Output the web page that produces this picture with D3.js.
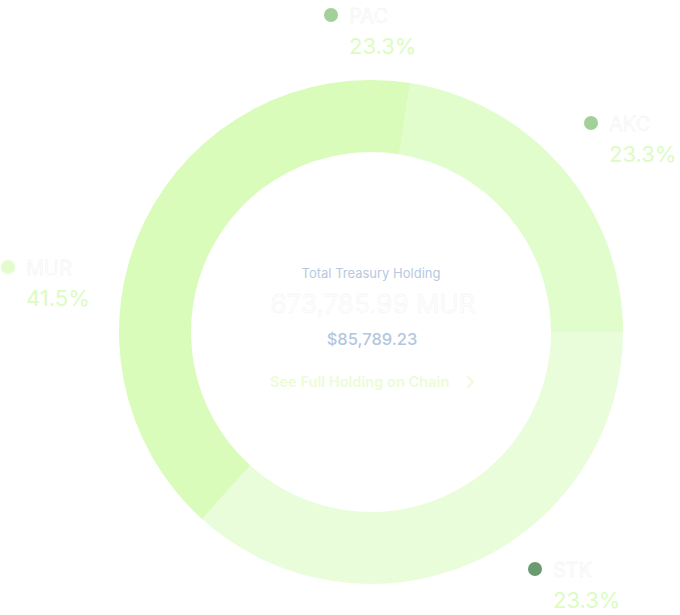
<!DOCTYPE html>
<html>
<head>
<meta charset="utf-8">
<script src="https://cdn.jsdelivr.net/npm/d3@7"></script>
<style>
  body { margin: 0; background: #ffffff; }
  svg { display: block; font-family: Inter, "Noto Sans", sans-serif; }
</style>
</head>
<body>
<div id="chart"></div>
<script>
// Ring segments, clockwise from ~9deg
const segments = ["AKC", "STK", "MUR"];
const segmentShare = [22.5, 36.7, 40.8];
const segmentColors = ["#e1fdcb", "#e9fdda", "#dafcba"];

// Legend labels
const labels = ["PAC", "AKC", "MUR", "STK"];
const labelPct = ["23.3%", "23.3%", "41.5%", "23.3%"];
const dotColors = ["#a3cf98", "#a3cf98", "#e2fccc", "#6a9a70"];

const totalLocal = "673,785.99 MUR";
const totalUsd = "$85,789.23";

const width = 680, height = 615;
const cx = 371, cy = 332;
const outerR = 252, innerR = 180;

const svg = d3.select("#chart").append("svg")
  .attr("width", width)
  .attr("height", height);

const startA = 9 * Math.PI / 180;
const pie = d3.pie().sort(null)
  .startAngle(startA)
  .endAngle(startA + 2 * Math.PI);

const arc = d3.arc().innerRadius(innerR).outerRadius(outerR);

const g = svg.append("g").attr("transform", `translate(${cx},${cy})`);
g.selectAll("path")
  .data(pie(segmentShare))
  .enter()
  .append("path")
  .attr("d", arc)
  .attr("fill", (d, i) => segmentColors[i]);

// legend label positions (dot centre)
const labelPos = [[331, 15], [591, 123], [8, 267], [535, 569]];

const lg = svg.selectAll("g.lbl")
  .data(labels)
  .enter()
  .append("g")
  .attr("class", "lbl")
  .attr("transform", (d, i) => `translate(${labelPos[i][0]},${labelPos[i][1]})`);

lg.append("circle")
  .attr("r", 7)
  .attr("fill", (d, i) => dotColors[i]);

lg.append("text")
  .attr("x", 18)
  .attr("y", 7.5)
  .attr("font-size", 20)
  .attr("fill", "#fdfdfd")
  .attr("stroke", "#ededed")
  .attr("stroke-width", 0.3)
  .text(d => d);

lg.append("text")
  .attr("x", 18)
  .attr("y", 38.5)
  .attr("font-size", 22)
  .attr("fill", "#dcfcc2")
  .text((d, i) => labelPct[i]);

// centre texts
svg.append("text")
  .attr("x", cx).attr("y", 278)
  .attr("text-anchor", "middle")
  .attr("font-size", 13)
  .attr("fill", "#b7c9e1")
  .text("Total Treasury Holding");

svg.append("text")
  .attr("x", cx + 2).attr("y", 313)
  .attr("text-anchor", "middle")
  .attr("font-size", 26)
  .attr("fill", "#fdfdfd")
  .attr("stroke", "#eef1ec")
  .attr("stroke-width", 0.3)
  .text(totalLocal);

svg.append("text")
  .attr("x", cx + 1).attr("y", 345)
  .attr("text-anchor", "middle")
  .attr("font-size", 16.5)
  .attr("font-weight", 500)
  .attr("fill", "#b3c6df")
  .text(totalUsd);

svg.append("text")
  .attr("x", 270).attr("y", 387)
  .attr("font-size", 14.6)
  .attr("font-weight", 600)
  .attr("fill", "#ecfcd6")
  .text("See Full Holding on Chain");

svg.append("path")
  .attr("d", "M467,376 L473,382 L467,388")
  .attr("fill", "none")
  .attr("stroke", "#ecfcd6")
  .attr("stroke-width", 1.8);
</script>
</body>
</html>
